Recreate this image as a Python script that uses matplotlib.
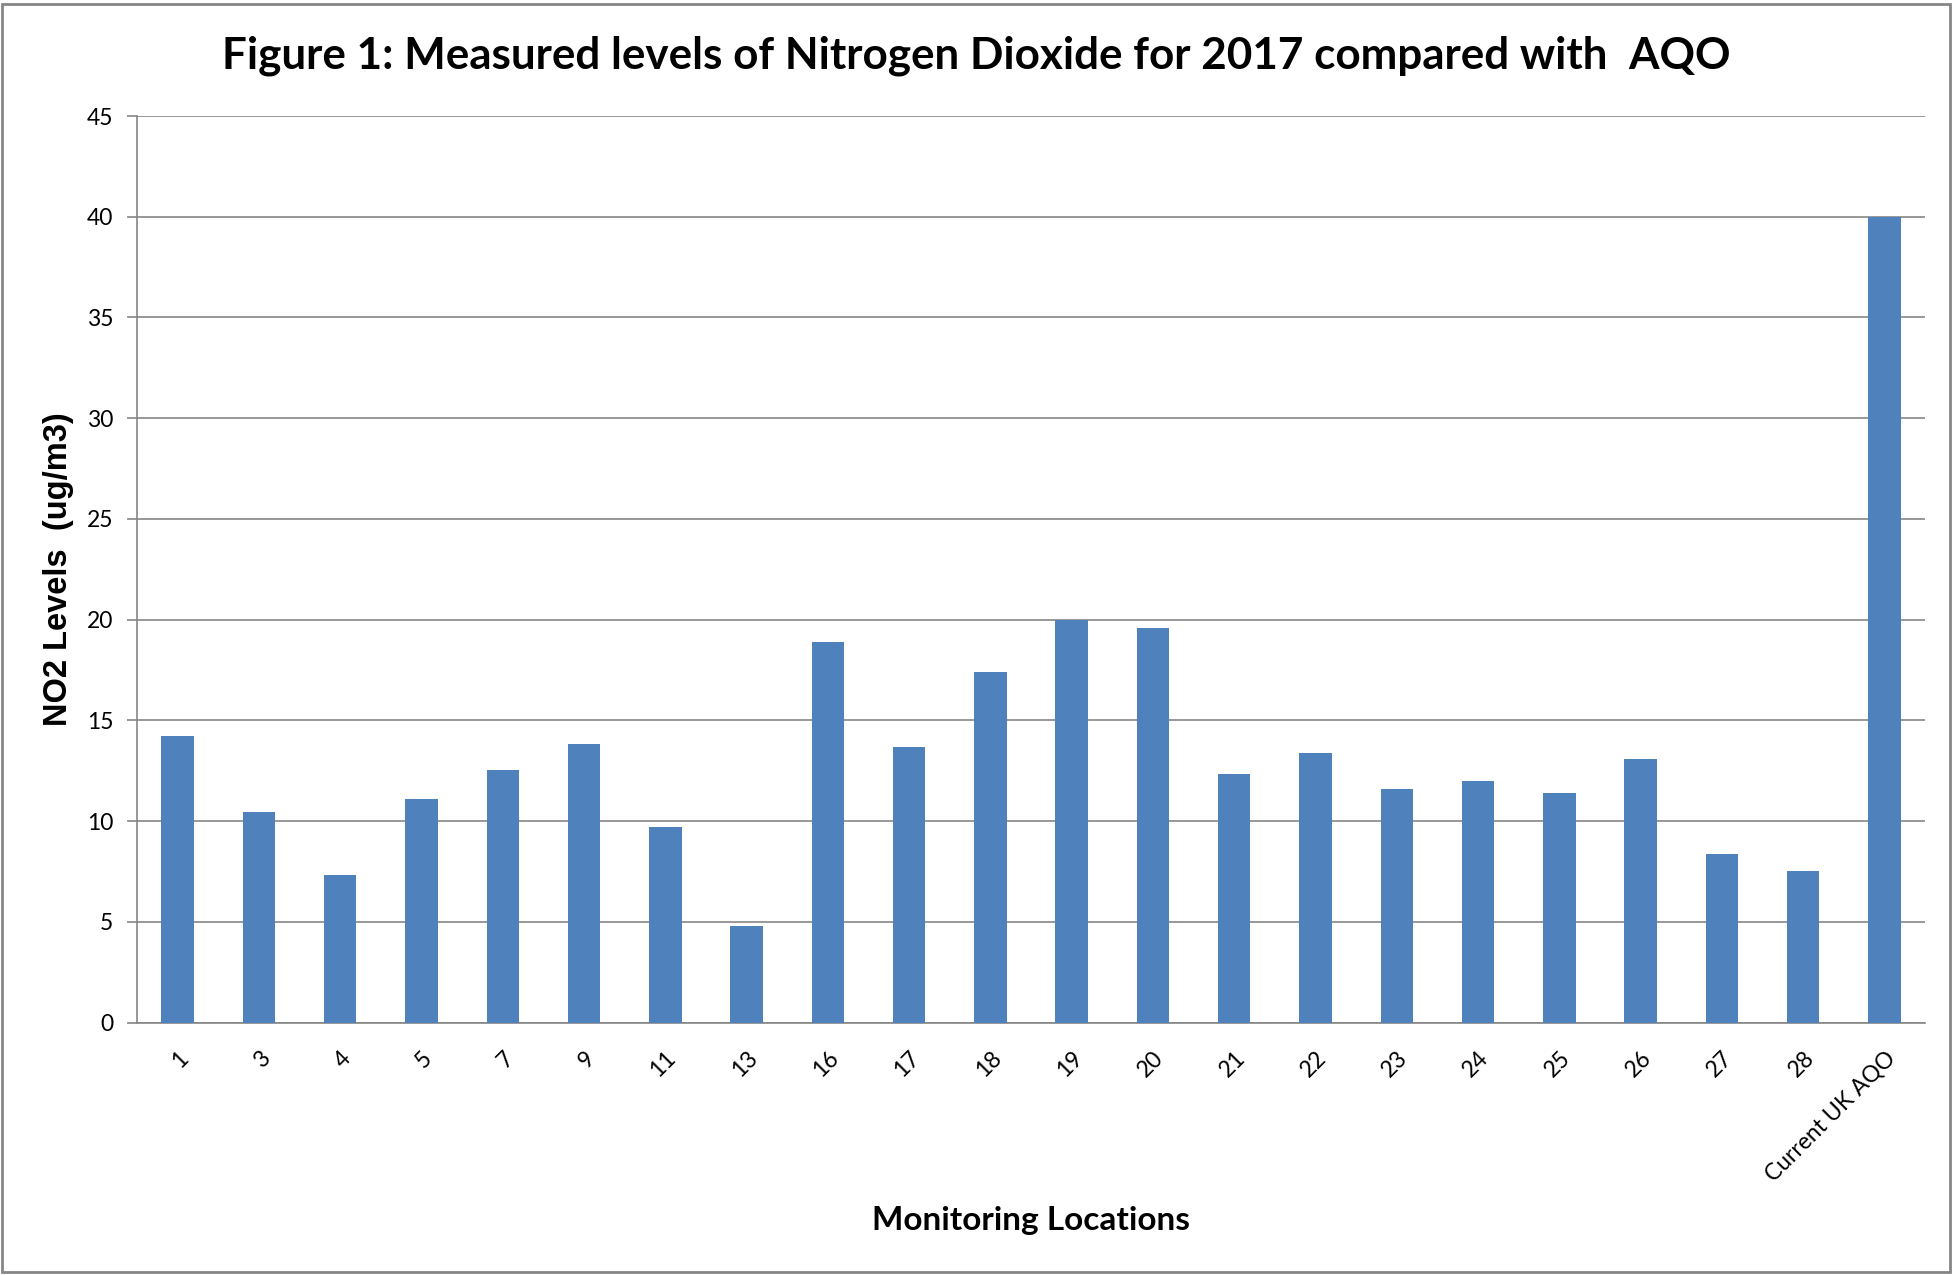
import matplotlib.pyplot as plt
from matplotlib.patches import Rectangle

# monitoring locations and measured NO2 (ug/m3)
locations = ["1", "3", "4", "5", "7", "9", "11", "13", "16", "17", "18", "19",
             "20", "21", "22", "23", "24", "25", "26", "27", "28", "Current UK AQO"]
no2 = [14.2, 10.45, 7.3, 11.1, 12.55, 13.85, 9.7, 4.8, 18.9, 13.7, 17.4, 20.0,
       19.6, 12.35, 13.4, 11.6, 12.0, 11.4, 13.1, 8.35, 7.5, 40.0]
yticks = [0, 5, 10, 15, 20, 25, 30, 35, 40, 45]

plt.rcParams['font.family'] = ['Lato', 'DejaVu Sans']
grey = "#868686"

fig = plt.figure(figsize=(19.52, 12.75), dpi=100)
ax = fig.add_axes([0.0702, 0.198, 0.916, 0.711])

x = range(len(locations))
ax.bar(x, no2, width=0.4, color="#4F81BD", zorder=3)

ax.set_xlim(-0.5, len(locations) - 0.5)
ax.set_ylim(0, 45)
ax.set_yticks(yticks)
ax.set_yticklabels([str(t) for t in yticks], fontsize=16.5)
ax.set_xticks(list(x))
ax.set_xticklabels(locations, fontsize=16.5, rotation=45, ha="right", va="top",
                   rotation_mode="anchor")
ax.tick_params(axis="x", length=0, pad=18)
ax.tick_params(axis="y", length=7, color=grey, width=1.2, pad=10)

ax.grid(axis="y", color=grey, linewidth=1.2, zorder=0)
for s in ["top", "right"]:
    ax.spines[s].set_visible(False)
ax.spines["left"].set_color(grey)
ax.spines["bottom"].set_color(grey)
ax.spines["left"].set_linewidth(1.2)
ax.spines["bottom"].set_linewidth(1.2)

fig.text(0.5, 0.956, "Figure 1: Measured levels of Nitrogen Dioxide for 2017 compared with  AQO",
         ha="center", va="center", fontsize=31.7, fontweight="bold")
fig.text(0.528, 0.043, "Monitoring Locations", ha="center", va="center",
         fontsize=24, fontweight="bold")
fig.text(0.030, 0.554, "NO2 Levels  (ug/m3)", ha="center", va="center", rotation=90,
         fontsize=23.5, fontweight="bold", family="Liberation Sans")

fig.patches.append(Rectangle((0.001, 0.002), 0.998, 0.995, transform=fig.transFigure,
                             fill=False, edgecolor=grey, linewidth=2))

fig.savefig("out.png", dpi=100)
